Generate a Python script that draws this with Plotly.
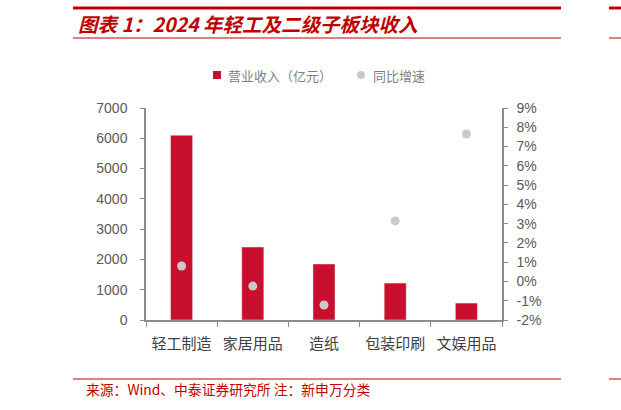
import plotly.graph_objects as go

categories = ["轻工制造", "家居用品", "造纸", "包装印刷", "文娱用品"]
revenue = [6100, 2410, 1850, 1220, 560]          # 营业收入（亿元）
growth = [0.80, -0.24, -1.22, 3.14, 7.65]        # 同比增速 (%)
left_ticks = [0, 1000, 2000, 3000, 4000, 5000, 6000, 7000]
right_ticks = list(range(-2, 10))
right_labels = [f"{v}%" for v in right_ticks]

W, H = 621, 410
L, R, T, B = 146, 502, 108, 320

def px(x):
    return (x - L) / (R - L)

def py(y):
    return (B - y) / (B - T)

red = "#C8102E"
dark_red = "#C00000"
gray_dot = "#C9C9C9"
axis_col = "#8C8C8C"
tick_font = dict(family="Liberation Sans, Arial, sans-serif", size=14, color="#595959")

fig = go.Figure()
fig.add_trace(go.Bar(
    x=categories, y=revenue, name="营业收入（亿元）",
    marker=dict(color=red), width=0.31, yaxis="y",
))
fig.add_trace(go.Scatter(
    x=categories, y=growth, name="同比增速", mode="markers",
    marker=dict(color=gray_dot, size=9), yaxis="y2",
))

fig.update_layout(
    width=W, height=H,
    margin=dict(l=L, r=W - R, t=T, b=H - B),
    paper_bgcolor="white", plot_bgcolor="white",
    showlegend=False,
    xaxis=dict(type="category", showline=True, linecolor=axis_col, linewidth=1.5,
               ticks="outside", tickson="boundaries", ticklen=5, tickcolor=axis_col,
               tickfont=dict(family="Noto Sans CJK SC", size=15, color="#404040"),
               showgrid=False, range=[-0.5, 4.5], ticklabelstandoff=9),
    yaxis=dict(range=[0, 7000], tickvals=left_ticks, showline=True, linecolor=axis_col,
               linewidth=1.5, ticks="outside", ticklen=4, tickcolor=axis_col,
               tickfont=tick_font, showgrid=False, zeroline=False, ticklabelstandoff=10),
    yaxis2=dict(range=[-2, 9], tickvals=right_ticks, ticktext=right_labels, overlaying="y",
                side="right", showline=True, linecolor=axis_col, linewidth=1.5,
                ticks="outside", ticklen=4, tickcolor=axis_col, tickfont=tick_font,
                showgrid=False, zeroline=False, ticklabelstandoff=6),
    font=dict(family="Noto Sans CJK SC"),
)

def hline(x0, x1, y, w):
    return dict(type="line", xref="paper", yref="paper", x0=px(x0), x1=px(x1),
                y0=py(y), y1=py(y), line=dict(color=dark_red, width=w))

shapes = [
    hline(73, 561, 8, 3), hline(609, 621, 8, 3),
    hline(73, 561, 38, 1), hline(609, 621, 38, 1),
    hline(73, 561, 379, 1), hline(609, 621, 379, 1),
    # legend symbols
    dict(type="rect", xref="paper", yref="paper", x0=px(213), x1=px(221), y0=py(79), y1=py(71),
         fillcolor=red, line=dict(width=0)),
    dict(type="circle", xref="paper", yref="paper", x0=px(357), x1=px(365), y0=py(79), y1=py(71),
         fillcolor=gray_dot, line=dict(width=0)),
]
fig.update_layout(shapes=shapes)

legend_font = dict(family="Noto Sans CJK SC", size=13, color="#7F7F7F")
fig.add_annotation(text="营业收入（亿元）", xref="paper", yref="paper", x=px(226), y=py(75),
                   xanchor="left", yanchor="middle", showarrow=False, font=legend_font)
fig.add_annotation(text="同比增速", xref="paper", yref="paper", x=px(371), y=py(75),
                   xanchor="left", yanchor="middle", showarrow=False, font=legend_font)

fig.add_annotation(
    text="<b><i>图表 1：2024 年轻工及二级子板块收入</i></b>",
    xref="paper", yref="paper", x=px(76), y=py(23), xanchor="left", yanchor="middle",
    showarrow=False, font=dict(family="Noto Sans CJK SC", size=19.5, color=dark_red),
)
fig.add_annotation(
    text="来源：Wind、中泰证券研究所 注：新申万分类",
    xref="paper", yref="paper", x=px(84), y=py(389), xanchor="left", yanchor="middle",
    showarrow=False, font=dict(family="Noto Sans CJK SC", size=13.8, color=dark_red),
)

fig.write_html("out.html", config={"displayModeBar": False},
               post_script="document.body.style.margin='0';document.body.style.padding='0';")
